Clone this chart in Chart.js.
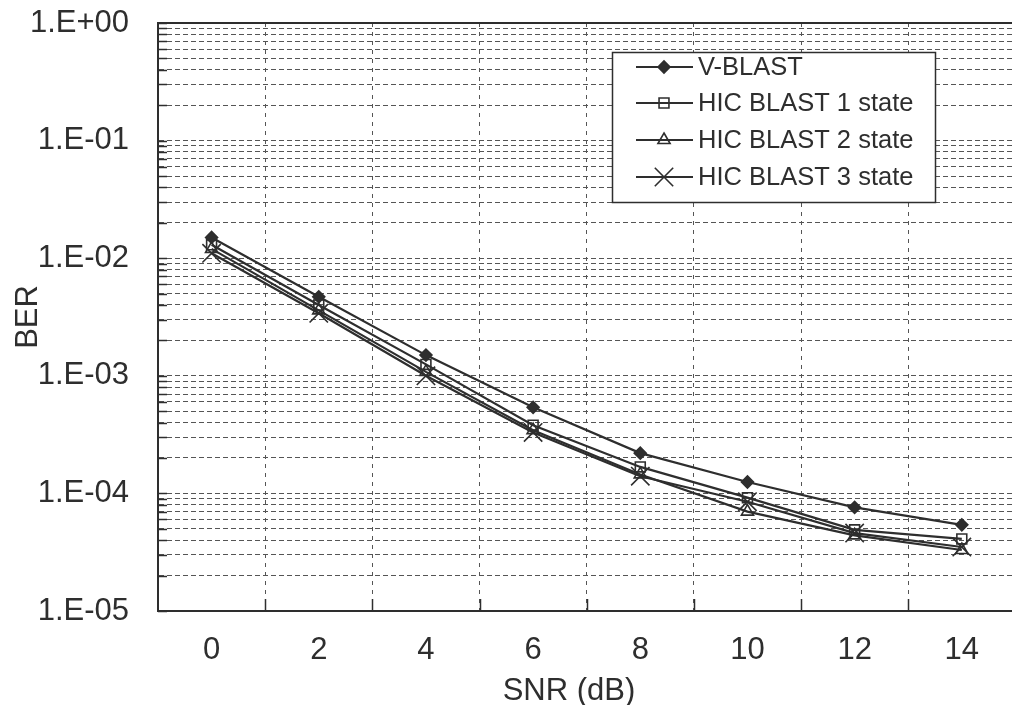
<!DOCTYPE html>
<html>
<head>
<meta charset="utf-8">
<script src="https://cdn.jsdelivr.net/npm/chart.js@4/dist/chart.umd.min.js"></script>
<style>
  html, body { margin: 0; padding: 0; background: #ffffff; overflow: hidden; }
  #wrap { width: 1030px; height: 705px; }
</style>
</head>
<body>
<div id="wrap"><canvas id="c" width="1030" height="705"></canvas></div>
<script>
// SNR points (dB)
const snrLabels = ['0', '2', '4', '6', '8', '10', '12', '14'];

// Bit error rate per detector
const vBlast = [1.5e-2, 4.7e-3, 1.5e-3, 5.4e-4, 2.2e-4, 1.25e-4, 7.6e-5, 5.4e-5];
const hic1   = [1.3e-2, 4.0e-3, 1.25e-3, 3.8e-4, 1.68e-4, 9.2e-5, 4.9e-5, 4.1e-5];
const hic2   = [1.2e-2, 3.6e-3, 1.08e-3, 3.45e-4, 1.45e-4, 7.0e-5, 4.4e-5, 3.3e-5];
const hic3   = [1.1e-2, 3.4e-3, 1.0e-3, 3.3e-4, 1.4e-4, 8.5e-5, 4.6e-5, 3.5e-5];

const seriesNames = ['V-BLAST', 'HIC BLAST 1 state', 'HIC BLAST 2 state', 'HIC BLAST 3 state'];

// Decades shown on the BER axis
const decadeExponents = [-5, -4, -3, -2, -1, 0];

const xTitle = 'SNR (dB)';
const yTitle = 'BER';

const INK = '#2e2e2e';
const GRID = '#555555';
const FONT = '"Liberation Sans", Arial, sans-serif';

function decadeLabel(e) {
  return '1.E' + (e < 0 ? '-' : '+') + String(Math.abs(e)).padStart(2, '0');
}

// every 1..9 x 10^n step between the lowest and highest decade
function logTickValues() {
  const out = [];
  const lo = Math.min(...decadeExponents), hi = Math.max(...decadeExponents);
  for (let e = lo; e <= hi; e++) {
    const top = e === hi ? 1 : 9;
    for (let m = 1; m <= top; m++) out.push({ value: m * Math.pow(10, e), major: m === 1 });
  }
  return out;
}

// inner tick marks, top frame line, axis titles and the boxed legend
const framePlugin = {
  id: 'frame',
  afterDraw(chart) {
    const { ctx, chartArea: a, scales: { x, y } } = chart;
    ctx.save();
    ctx.setLineDash([]);
    ctx.strokeStyle = INK;
    ctx.lineWidth = 1.5;

    y.ticks.forEach(t => {
      const py = Math.round(y.getPixelForValue(t.value)) + 0.5;
      ctx.beginPath();
      ctx.moveTo(a.left, py);
      ctx.lineTo(a.left + 9, py);
      ctx.stroke();
    });
    for (let i = 1; i < snrLabels.length; i++) {
      const px = Math.round((x.getPixelForValue(i - 1) + x.getPixelForValue(i)) / 2) + 0.5;
      ctx.beginPath();
      ctx.moveTo(px, a.bottom);
      ctx.lineTo(px, a.bottom - 12);
      ctx.stroke();
    }
    ctx.lineWidth = 2;
    ctx.beginPath();
    ctx.moveTo(a.left, a.top);
    ctx.lineTo(a.right, a.top);
    ctx.stroke();

    // axis titles
    ctx.fillStyle = INK;
    ctx.font = '31px ' + FONT;
    ctx.textAlign = 'center';
    ctx.textBaseline = 'alphabetic';
    ctx.fillText(xTitle, 569, 700);
    ctx.save();
    ctx.translate(37, (a.top + a.bottom) / 2);
    ctx.rotate(-Math.PI / 2);
    ctx.fillText(yTitle, 0, 0);
    ctx.restore();

    // legend
    const box = { l: 612, t: 52, r: 935, b: 202 };
    ctx.fillStyle = '#ffffff';
    ctx.fillRect(box.l, box.t, box.r - box.l, box.b - box.t);
    ctx.lineWidth = 1.5;
    ctx.strokeStyle = INK;
    ctx.strokeRect(box.l + 0.5, box.t + 0.5, box.r - box.l, box.b - box.t);
    const rows = [67, 103, 140, 177];
    ctx.font = '25.5px ' + FONT;
    ctx.textAlign = 'left';
    ctx.textBaseline = 'middle';
    chart.data.datasets.forEach((ds, i) => {
      const yy = rows[i];
      ctx.strokeStyle = ds.borderColor;
      ctx.lineWidth = 2;
      ctx.beginPath();
      ctx.moveTo(636, yy);
      ctx.lineTo(693, yy);
      ctx.stroke();
      ctx.fillStyle = ds.pointBackgroundColor;
      ctx.strokeStyle = ds.borderColor;
      ctx.lineWidth = ds.pointBorderWidth;
      Chart.helpers.drawPoint(ctx, {
        pointStyle: ds.pointStyle,
        radius: ds.pointRadius,
        rotation: 0,
        borderWidth: ds.pointBorderWidth
      }, 664, yy);
      ctx.fillStyle = INK;
      ctx.fillText(ds.label, 698, yy + 1);
    });
    ctx.restore();
  }
};

const seriesData = [vBlast, hic1, hic2, hic3];
const markerStyles = [
  { pointStyle: 'rectRot', pointRadius: 6, pointBackgroundColor: INK },
  { pointStyle: 'rect', pointRadius: 7, pointBackgroundColor: 'rgba(0,0,0,0)' },
  { pointStyle: 'triangle', pointRadius: 7, pointBackgroundColor: 'rgba(0,0,0,0)' },
  { pointStyle: 'crossRot', pointRadius: 13, pointBackgroundColor: 'rgba(0,0,0,0)' }
];

new Chart(document.getElementById('c'), {
  type: 'line',
  data: {
    labels: snrLabels,
    datasets: seriesData.map((d, i) => Object.assign({
      label: seriesNames[i],
      data: d,
      borderColor: INK,
      borderWidth: 2.2,
      pointBorderColor: INK,
      pointBorderWidth: 1.6,
      tension: 0,
      fill: false
    }, markerStyles[i]))
  },
  options: {
    responsive: false,
    animation: false,
    events: [],
    layout: { padding: { top: 23, right: 6, left: 0, bottom: 0 } },
    plugins: { legend: { display: false }, tooltip: { enabled: false } },
    scales: {
      x: {
        type: 'category',
        offset: true,
        afterFit(s) { s.height = 94; },
        grid: { offset: true, color: GRID, lineWidth: 1, drawTicks: false },
        border: { display: true, color: INK, width: 2, dash: [4, 5] },
        ticks: { color: INK, font: { family: FONT, size: 31 }, padding: 21, autoSkip: false, maxRotation: 0 }
      },
      y: {
        type: 'logarithmic',
        min: Math.pow(10, Math.min(...decadeExponents)),
        max: Math.pow(10, Math.max(...decadeExponents)),
        afterFit(s) { s.width = 158; s.paddingTop = 0; s.paddingBottom = 0; },
        afterBuildTicks(s) { s.ticks = logTickValues(); },
        grid: { color: GRID, lineWidth: 1, drawTicks: false },
        border: { display: true, color: INK, width: 2, dash: [5, 3] },
        ticks: {
          color: INK,
          font: { family: FONT, size: 31 },
          padding: 29,
          autoSkip: false,
          callback(v) {
            const e = Math.log10(v);
            return Math.abs(e - Math.round(e)) < 1e-9 ? decadeLabel(Math.round(e)) : '';
          }
        }
      }
    }
  },
  plugins: [framePlugin]
});
</script>
</body>
</html>
